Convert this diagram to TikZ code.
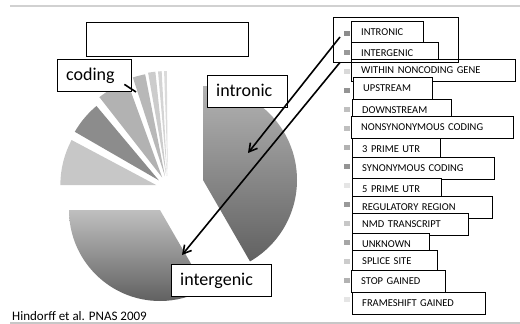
\documentclass[tikz,border=0pt]{standalone}
\usepackage{fontspec}
\setmainfont{Carlito}
\usetikzlibrary{calc,arrows.meta,shadows}

\begin{document}
\begin{tikzpicture}[
  x=1pt, y=-1pt,
  entry/.style={draw, fill=white, anchor=north west, minimum height=22pt, inner xsep=10pt, inner ysep=0pt, align=left, font=\fontsize{10.5}{12}\selectfont, text height=7pt, text depth=0pt},
  tag/.style={draw, fill=white, anchor=north west, minimum height=32pt, inner xsep=9pt, inner ysep=0pt, align=left, font=\fontsize{18}{20}\selectfont, text height=12pt, text depth=2pt, drop shadow={opacity=0.3, shadow xshift=1.2pt, shadow yshift=-1.2pt}},
  pointer/.style={-{Straight Barb[length=2.8mm, width=3.2mm]}, line width=1.6pt}
]
  \useasboundingbox (0,0) rectangle (520,324);
  \draw[black!18, line width=2pt] (10,6) -- (520,6);
  \draw[black!22, line width=1.5pt] (10,323) -- (520,323);

  \shade[top color=black!30, bottom color=black!62] (203,180) -- +(90:94pt) arc[start angle=90, end angle=-60, radius=94pt] -- cycle;
  \shade[top color=black!25, bottom color=black!62] (160,210) -- +(180:91pt) arc[start angle=180, end angle=300, radius=91pt] -- cycle;
  \coordinate (pc) at (168,188);
  \foreach \a/\b/\r/\g in {180/152/96pt/22, 150/130/97pt/45, 128/110/102pt/30, 108/101/104pt/28, 100/96/105pt/20, 95/93/105pt/17, 92/90.5/105pt/14}{
    \pgfmathsetmacro\m{(\a+\b)/2}
    \fill[black!\g] ($(pc)+(\m:12pt)$) -- +(\a:\r) arc[start angle=\a, end angle=\b, radius=\r] -- cycle;
  }

  \node[draw, fill=white, anchor=north west, minimum width=162pt, minimum height=34pt, inner sep=0pt] (blank) at (86,22) {};
  \node[tag, text width=56pt] (coding) at (57,59) {coding};
  \node[tag, text width=62pt] (intronic) at (207,75) {intronic};
  \node[tag, text width=82pt] (intergenic) at (171,264) {intergenic};

  \foreach \x/\y/\tw/\g/\lbl [count=\i from 0] in {
    351/21/52pt/45/INTRONIC,
    351/42/67pt/40/INTERGENIC,
    351/59/144pt/15/WITHIN NONCODING GENE,
    353/77/59pt/42/UPSTREAM,
    352/99/79pt/25/DOWNSTREAM,
    351/116/142pt/25/NONSYNONYMOUS CODING,
    352/138/68pt/30/3 PRIME UTR,
    352/157/122pt/42/SYNONYMOUS CODING,
    352/178/69pt/10/5 PRIME UTR,
    352/196/120pt/40/REGULATORY REGION,
    352/213/96pt/22/NMD TRANSCRIPT,
    352/233/57pt/35/UNKNOWN,
    352/250/65pt/20/SPLICE SITE,
    351/270/74pt/30/STOP GAINED,
    352/292/113pt/10/FRAMESHIFT GAINED}{
    \fill[black!\g] (344,{30.5+19*\i}) rectangle +(6,5);
    \node[entry, text width=\tw] (row\i) at (\x,\y) {\lbl};
  }
  \node[draw, anchor=north west, minimum width=125pt, minimum height=45pt, inner sep=0pt] (legend) at (333,17) {};

  \node[anchor=base west, inner sep=0pt, font=\fontsize{13}{15}\selectfont] (cite) at (12,320) {Hindorff et al. PNAS 2009};

  \coordinate (keyA) at ([xshift=7pt, yshift=-20pt]legend.north west);
  \coordinate (keyB) at ([xshift=7pt]legend.south west);
  \coordinate (intronTip) at (248,153);
  \coordinate (intergTip) at (182,255);
  \coordinate (codTip) at (136,92);
  \draw[pointer] (keyA) -- (intronTip);
  \draw[pointer] (keyB) -- (intergTip);
  \draw[line width=1.6pt] ([xshift=-7pt, yshift=7pt]coding.south east) -- (codTip);
\end{tikzpicture}
\end{document}
